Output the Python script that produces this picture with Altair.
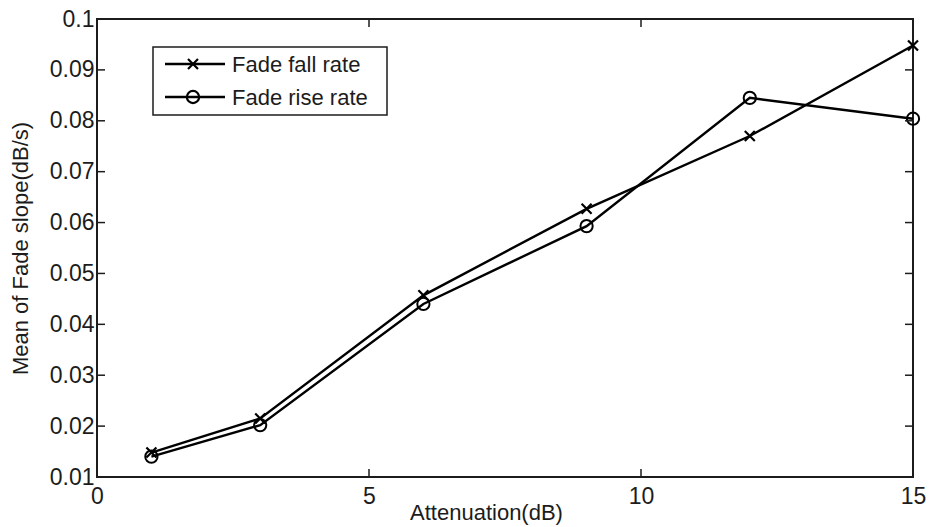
import altair as alt
import pandas as pd

# Mean fade slope against attenuation threshold
attenuation = [1, 3, 6, 9, 12, 15]
fade_fall = [0.0148, 0.0215, 0.0457, 0.0627, 0.0770, 0.0948]
fade_rise = [0.0140, 0.0202, 0.0440, 0.0593, 0.0845, 0.0804]
series_names = ["Fade fall rate", "Fade rise rate"]

x_ticks = [0, 5, 10, 15]
y_ticks = [0.01, 0.02, 0.03, 0.04, 0.05, 0.06, 0.07, 0.08, 0.09, 0.1]
x_inner_ticks = [5, 10]
y_inner_ticks = [0.02, 0.03, 0.04, 0.05, 0.06, 0.07, 0.08, 0.09]

W, H = 816, 458
FONT = "Liberation Sans"
FS = 22
TICK_FS = 23
INK = "#1c1c1c"

fall_df = pd.DataFrame({"att": attenuation, "slope": fade_fall, "series": series_names[0]})
rise_df = pd.DataFrame({"att": attenuation, "slope": fade_rise, "series": series_names[1]})

x_scale = alt.Scale(domain=[0, 15], nice=False, zero=False)
y_scale = alt.Scale(domain=[0.01, 0.1], nice=False, zero=False)

x_enc = alt.X(
    "att:Q",
    scale=x_scale,
    axis=alt.Axis(
        values=x_ticks, ticks=False, domain=False, grid=False,
        labelFont=FONT, labelFontSize=TICK_FS, labelColor=INK, labelPadding=8,
        labelFlush=False,
        title="Attenuation(dB)", titleFont=FONT, titleFontSize=FS,
        titleFontWeight="normal", titleColor=INK,
        titleX=389, titleY=35, titleBaseline="middle", titleAlign="center",
    ),
)
y_enc = alt.Y(
    "slope:Q",
    scale=y_scale,
    axis=alt.Axis(
        values=y_ticks, ticks=False, domain=False, grid=False,
        labelFont=FONT, labelFontSize=TICK_FS, labelColor=INK, labelPadding=3,
        labelFlush=False, labelExpr="format(datum.value, '.2~f')",
        title="Mean of Fade slope(dB/s)", titleFont=FONT, titleFontSize=FS,
        titleFontWeight="normal", titleColor=INK,
        titleAngle=-90, titleX=-77, titleY=H / 2,
        titleBaseline="middle", titleAlign="center",
    ),
)

X_PATH = "M-1,-1L1,1M-1,1L1,-1"
LW = 2.4

fall_line = alt.Chart(fall_df).mark_line(color="black", strokeWidth=LW).encode(x=x_enc, y=y_enc)
fall_pts = alt.Chart(fall_df).mark_point(
    shape=X_PATH, size=100, filled=False, color="black", strokeWidth=2.2, opacity=1
).encode(x=alt.X("att:Q", scale=x_scale), y=alt.Y("slope:Q", scale=y_scale))
rise_line = alt.Chart(rise_df).mark_line(color="black", strokeWidth=LW).encode(
    x=alt.X("att:Q", scale=x_scale), y=alt.Y("slope:Q", scale=y_scale)
)
rise_pts = alt.Chart(rise_df).mark_point(
    shape="circle", size=150, filled=False, color="black", strokeWidth=2.0, opacity=1
).encode(x=alt.X("att:Q", scale=x_scale), y=alt.Y("slope:Q", scale=y_scale))

# inward tick marks on all four sides of the box
yt_df = pd.DataFrame({"v": y_inner_ticks})
xt_df = pd.DataFrame({"v": x_inner_ticks})
TL = 8
left_ticks = alt.Chart(yt_df).mark_rule(color=INK, strokeWidth=1.5).encode(
    y=alt.Y("v:Q", scale=y_scale), x=alt.value(0), x2=alt.value(TL)
)
right_ticks = alt.Chart(yt_df).mark_rule(color=INK, strokeWidth=1.5).encode(
    y=alt.Y("v:Q", scale=y_scale), x=alt.value(W - TL), x2=alt.value(W)
)
bottom_ticks = alt.Chart(xt_df).mark_rule(color=INK, strokeWidth=1.5).encode(
    x=alt.X("v:Q", scale=x_scale), y=alt.value(H - TL), y2=alt.value(H)
)
top_ticks = alt.Chart(xt_df).mark_rule(color=INK, strokeWidth=1.5).encode(
    x=alt.X("v:Q", scale=x_scale), y=alt.value(0), y2=alt.value(TL)
)

# legend box with sample line, marker and label per series
leg_df = pd.DataFrame({"series": series_names})
row1 = leg_df[leg_df.series == series_names[0]]
row2 = leg_df[leg_df.series == series_names[1]]
LX0, LX1, LY0, LY1 = 56, 290, 28, 96
R1, R2 = 45, 78
legend_box = alt.Chart(leg_df.head(1)).mark_rect(
    fill="white", stroke=INK, strokeWidth=1.5
).encode(x=alt.value(LX0), x2=alt.value(LX1), y=alt.value(LY0), y2=alt.value(LY1))


def legend_row(df, yy, marker, size):
    line = alt.Chart(df).mark_rule(color="black", strokeWidth=LW).encode(
        x=alt.value(68), x2=alt.value(128), y=alt.value(yy)
    )
    pt = alt.Chart(df).mark_point(
        shape=marker, size=size, filled=False, color="black", strokeWidth=2.2, opacity=1
    ).encode(x=alt.value(96), y=alt.value(yy))
    txt = alt.Chart(df).mark_text(
        font=FONT, fontSize=FS, color=INK, align="left", baseline="middle"
    ).encode(x=alt.value(135), y=alt.value(yy + 1), text="series:N")
    return [line, pt, txt]


layers = [
    fall_line, rise_line, fall_pts, rise_pts,
    left_ticks, right_ticks, bottom_ticks, top_ticks,
    legend_box,
] + legend_row(row1, R1, X_PATH, 100) + legend_row(row2, R2, "circle", 150)

chart = alt.layer(*layers).properties(
    width=W,
    height=H,
    autosize=alt.AutoSizeParams(type="none"),
    padding={"left": 97, "top": 19, "right": 17, "bottom": 50},
    background="white",
).configure_view(stroke=INK, strokeWidth=2)

chart.save("out.html", embed_options={"renderer": "svg", "actions": False})
